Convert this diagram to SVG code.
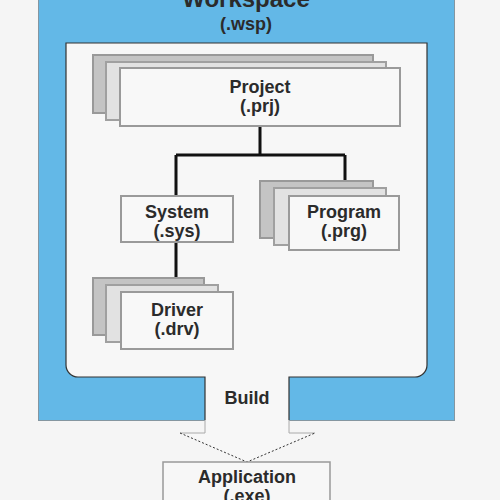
<svg xmlns="http://www.w3.org/2000/svg" width="500" height="500" viewBox="0 0 500 500">
<style>
text{font-family:"Liberation Sans",Arial,sans-serif;font-weight:bold;fill:#2b2b2b;text-anchor:middle}
.t{font-size:18px}
.back{fill:#c4c4c4;stroke:#999;stroke-width:2}
.mid{fill:#e2e2e2;stroke:#a0a0a0;stroke-width:2}
.front{fill:#f8f8f8;stroke:#9a9a9a;stroke-width:2}
.conn{stroke:#111;stroke-width:3;fill:none}
</style>
<rect x="0" y="0" width="500" height="500" fill="#f5f5f5"/>
<g id="workspace">
<rect x="38.5" y="-10" width="416" height="430.5" fill="#63b8e7" stroke="#8596a0" stroke-width="1"/>
<path d="M66,43 H427 V365 A12,12 0 0 1 415,377 H289 V433 H315 L247,462 L180,433 H205 V377 H78 A12,12 0 0 1 66,365 Z" fill="#f7f7f7"/>
<path d="M205,420 V377 H78 A12,12 0 0 1 66,365 V43 H427 V365 A12,12 0 0 1 415,377 H289 V420" fill="none" stroke="#333" stroke-width="1.2"/>
<path d="M205,420 V433 H180 M289,420 V433 H315" fill="none" stroke="#aaa" stroke-width="1"/>
<path d="M180,433 L247,462 L315,433" fill="none" stroke="#333" stroke-width="1" stroke-dasharray="2,2"/>
<text x="246" y="7" style="font-size:24px">Workspace</text>
<text x="246" y="30" class="t">(.wsp)</text>
<text x="247" y="404" class="t">Build</text>
</g>
<g id="connectors">
<path class="conn" d="M260,126 V155 M176,155 H345 M176,155 V196 M345,155 V196 M176,242 V292"/>
</g>
<g id="project">
<rect class="back" x="93" y="55" width="280" height="58"/>
<rect class="mid" x="106" y="62" width="280" height="58"/>
<rect class="front" x="120" y="68" width="280" height="58"/>
<text x="260" y="93" class="t">Project</text>
<text x="260" y="112" class="t">(.prj)</text>
</g>
<g id="system">
<rect class="front" x="121" y="196" width="112" height="46"/>
<text x="177" y="218" class="t">System</text>
<text x="177" y="237" class="t">(.sys)</text>
</g>
<g id="program">
<rect class="back" x="260" y="181" width="113" height="57"/>
<rect class="mid" x="274" y="188" width="112" height="57"/>
<rect class="front" x="289" y="196" width="110" height="54"/>
<text x="344" y="218" class="t">Program</text>
<text x="344" y="237" class="t">(.prg)</text>
</g>
<g id="driver">
<rect class="back" x="93" y="278" width="111" height="57"/>
<rect class="mid" x="106" y="285" width="112" height="57"/>
<rect class="front" x="121" y="292" width="112" height="57"/>
<text x="177" y="316" class="t">Driver</text>
<text x="177" y="335" class="t">(.drv)</text>
</g>
<g id="application">
<rect x="163" y="462" width="167" height="50" fill="#f7f7f7" stroke="#999" stroke-width="1.5"/>
<text x="247" y="483" class="t">Application</text>
<text x="247" y="502" class="t">(.exe)</text>
</g>
</svg>
